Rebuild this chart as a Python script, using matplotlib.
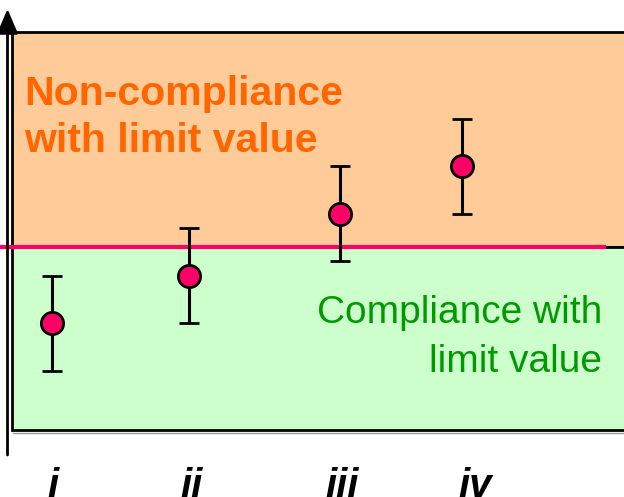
import matplotlib
matplotlib.use("Agg")
import matplotlib.pyplot as plt
from matplotlib.patches import Rectangle
from matplotlib.transforms import blended_transform_factory

# data
labels = ["i", "ii", "iii", "iv"]
xpos = [1, 2, 3.1, 3.99]
label_pos = [1.01, 2.015, 3.12, 4.085]
values = [34, 44, 57, 67]
errors = [10, 10, 10, 10]
limit = 50

plt.rcParams["font.family"] = ["Liberation Sans", "DejaVu Sans"]

W, H = 624, 497
fig = plt.figure(figsize=(W / 100, H / 100), dpi=100)
ax = fig.add_axes([0, 0, 1, 1])
ax.set_xlim(0.6204, 5.1752)
ax.set_ylim(-2.63, 102.0)
ax.axis("off")

def fx(px):
    return px / W

def fy(py):
    return 1 - py / H

# background boxes
ax.add_patch(Rectangle((fx(12), fy(247)), 1.1, fy(32) - fy(247),
                       transform=ax.transAxes, facecolor="#FFCC99",
                       edgecolor="black", lw=2, zorder=1))
ax.add_patch(Rectangle((fx(12), fy(430)), 1.1, fy(247) - fy(430),
                       transform=ax.transAxes, facecolor="#CCFFCC",
                       edgecolor="black", lw=2, zorder=1))
ax.plot([fx(13), 1], [fy(432.5), fy(432.5)], transform=ax.transAxes,
        color="#999999", lw=1, zorder=1)

# limit value line
ax.axhline(limit, xmin=0, xmax=fx(604), color="#FF0066", lw=3, zorder=2)

# y axis arrow
ax.annotate("", xy=(fx(7.5), fy(9)), xytext=(fx(7.5), fy(455)),
            xycoords="axes fraction", textcoords="axes fraction",
            arrowprops=dict(arrowstyle="-|>,head_length=0.75,head_width=0.32",
                            color="black", lw=2, mutation_scale=20,
                            shrinkA=0, shrinkB=0))

# measurements with uncertainty
ax.errorbar(xpos, values, yerr=errors, fmt="o", color="black", ecolor="black",
            elinewidth=2.2, capsize=7.5, capthick=2.2, markersize=16,
            markerfacecolor="#FF0066", markeredgecolor="black",
            markeredgewidth=2, zorder=3)

# region texts
ax.text(fx(24), fy(105), "Non-compliance", transform=ax.transAxes,
        color="#FF6600", fontsize=29.5, fontweight="bold", va="baseline")
ax.text(fx(24), fy(152), "with limit value", transform=ax.transAxes,
        color="#FF6600", fontsize=29.5, fontweight="bold", va="baseline")
ax.text(fx(602), fy(323), "Compliance with", transform=ax.transAxes,
        color="#009900", fontsize=28, ha="right", va="baseline")
ax.text(fx(602), fy(372), "limit value", transform=ax.transAxes,
        color="#009900", fontsize=28, ha="right", va="baseline")

# category labels
trans = blended_transform_factory(ax.transData, ax.transAxes)
for x, lab in zip(label_pos, labels):
    ax.text(x, fy(497), lab, transform=trans, ha="center", va="baseline",
            fontsize=29, fontweight="bold", fontstyle="italic")

fig.savefig("out.png", dpi=100)
